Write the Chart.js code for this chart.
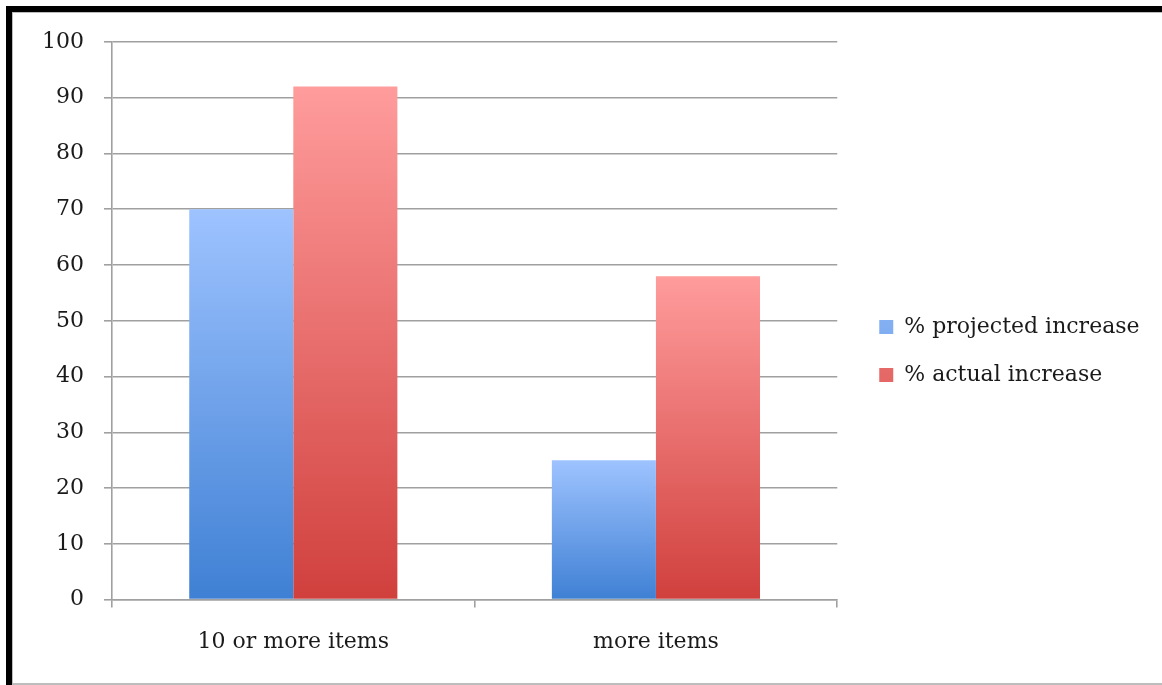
<!DOCTYPE html>
<html>
<head>
<meta charset="utf-8">
<script src="https://cdn.jsdelivr.net/npm/chart.js@4"></script>
<style>
  html, body { margin: 0; padding: 0; background: #fff; }
  #frame {
    position: absolute; left: 6px; top: 6px; right: 0; bottom: 0;
    border-top: 6px solid #000; border-left: 6px solid #000;
  }
  #inner {
    position: absolute; left: 0; top: 0; right: 0; bottom: 0;
    border-top: 1px solid #bdbdbd; border-left: 1px solid #bdbdbd; border-bottom: 2px solid #bdbdbd;
  }
  #wrap { position: absolute; left: 0; top: 0; width: 1162px; height: 685px; }
</style>
</head>
<body>
<div id="frame"><div id="inner"></div></div>
<div id="wrap"><canvas id="chart"></canvas></div>
<script>
// =============================
// Data
// =============================
const categories = ["10 or more items", "more items"];
const projected = [70, 25];
const actual = [92, 58];
const yTicks = [0, 10, 20, 30, 40, 50, 60, 70, 80, 90, 100];

const FONT = "'DejaVu Serif', serif";

// vertical gradient for each bar, light on top, dark at the base
function barGradient(top, bottom, flat) {
  return function (ctx) {
    const chart = ctx.chart;
    if (ctx.type !== "data" || !chart.chartArea) return flat;
    const y = chart.scales.y;
    const yTop = y.getPixelForValue(ctx.raw);
    const yBase = y.getPixelForValue(0);
    const g = chart.ctx.createLinearGradient(0, yTop, 0, yBase);
    g.addColorStop(0, top);
    g.addColorStop(1, bottom);
    return g;
  };
}

// nudge legend right of the plot (and let it run to the canvas edge)
const legendShift = {
  id: "legendShift",
  afterLayout(chart) {
    const lg = chart.legend;
    if (!lg) return;
    lg.left += 16;
    lg.right = chart.width;
    lg.width = lg.right - lg.left;
    lg.top -= 8;
    lg.bottom -= 8;
  }
};

new Chart(document.getElementById("chart"), {
  type: "bar",
  data: {
    labels: categories,
    datasets: [
      {
        label: "% projected increase",
        data: projected,
        backgroundColor: barGradient("#9ec3ff", "#3f80d4", "#5e92e4")
      },
      {
        label: "% actual increase",
        data: actual,
        backgroundColor: barGradient("#ff9c9c", "#d0403d", "#e0625f")
      }
    ]
  },
  options: {
    responsive: true,
    maintainAspectRatio: false,
    animation: false,
    categoryPercentage: 0.574,
    barPercentage: 1,
    layout: { padding: { left: 22, top: 42, bottom: 9, right: 53 } },
    plugins: {
      tooltip: { enabled: false },
      legend: {
        position: "right",
        labels: {
          boxWidth: 14,
          boxHeight: 14,
          padding: 26,
          color: "#1a1a1a",
          font: { family: FONT, size: 22 }
        }
      }
    },
    scales: {
      x: {
        grid: { drawOnChartArea: false, tickLength: 8, color: "#a0a0a0", lineWidth: 1.6 },
        border: { color: "#a0a0a0", width: 1.6 },
        ticks: { padding: 21, color: "#1a1a1a", font: { family: FONT, size: 22 } }
      },
      y: {
        min: 0,
        max: 100,
        afterBuildTicks: axis => { axis.ticks = yTicks.map(v => ({ value: v })); },
        grid: { tickLength: 8, color: "#a0a0a0", lineWidth: 1.6 },
        border: { color: "#a0a0a0", width: 1.6 },
        ticks: { padding: 20, color: "#1a1a1a", font: { family: FONT, size: 22 } }
      }
    }
  },
  plugins: [legendShift]
});
</script>
</body>
</html>
